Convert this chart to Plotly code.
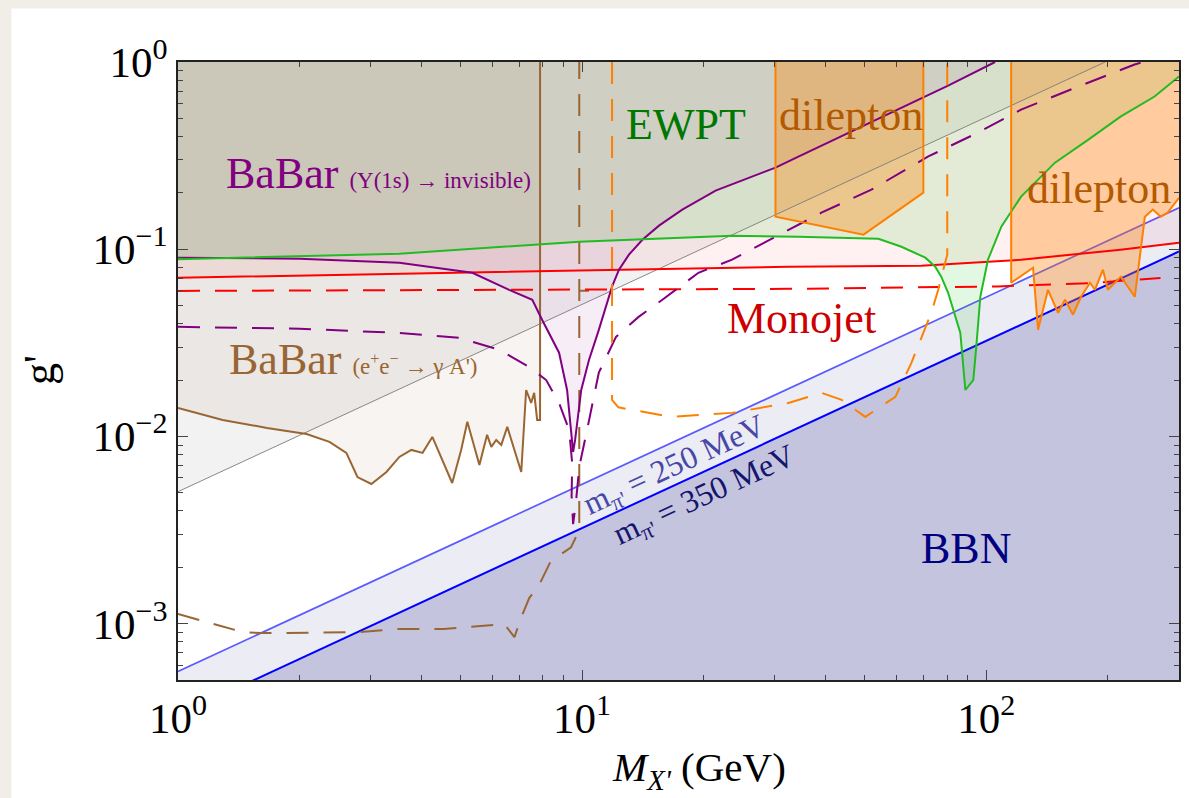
import numpy as np
import plotly.graph_objects as go

# ---------------- axis extents ----------------
X_MIN, X_MAX = 1.0, 300.0          # M_X' (GeV)
Y_MIN, Y_MAX = 5e-4, 1.0           # g'

# ---------------- BaBar  Upsilon(1s) -> invisible ----------------
ups_m = [1.0, 2.0, 3.53, 5.35, 6.60, 7.53, 7.96, 8.77, 9.18, 9.45, 9.50, 9.61, 9.95,
         10.4, 11.0, 11.86, 12.34, 13.06, 14.1, 15.5, 17.7, 21.4, 25.8, 30.1, 34.3,
         45.7, 60.6, 80.5, 105.2]
ups_g = [0.0901, 0.0890, 0.0847, 0.0748, 0.0607, 0.0537, 0.0420, 0.0280, 0.0177,
         0.0099, 0.00826, 0.00958, 0.0177, 0.0256, 0.0371, 0.0631, 0.0777, 0.0935,
         0.1124, 0.1336, 0.1627, 0.2055, 0.241, 0.273, 0.3126, 0.420, 0.557, 0.748, 1.0]

ups_proj_m = [1.0, 2.0, 3.53, 4.97, 6.24, 7.40, 8.15, 8.77, 9.29, 9.45, 9.42, 9.50,
              9.64, 9.84, 10.41, 11.0, 12.13, 13.8, 15.8, 19.4, 23.5, 30.1, 39.1,
              52.0, 71.9, 95.5, 122.0, 162.0, 233.0, 245.0]
ups_proj_g = [0.0385, 0.0376, 0.0357, 0.0336, 0.0290, 0.0235, 0.0200, 0.0151, 0.0108,
              0.00722, 0.0048, 0.0034, 0.0043, 0.00687, 0.01226, 0.0219, 0.0340,
              0.0435, 0.0537, 0.0748, 0.0879, 0.1166, 0.1567, 0.208, 0.313, 0.420,
              0.557, 0.713, 0.97, 1.0]

# ---------------- BaBar  e+e- -> gamma A' ----------------
ee_m = [1.0, 1.29, 1.66, 2.08, 2.37, 2.61, 2.78, 3.01, 3.28, 3.53, 3.78, 4.03, 4.26,
        4.51, 4.77, 5.02, 5.20, 5.57, 5.82, 5.96, 6.13, 6.31, 6.53, 6.80, 7.07, 7.27,
        7.48, 7.61, 7.74, 7.87, 7.87]
ee_g = [0.01419, 0.01225, 0.0111, 0.0103, 0.00935, 0.00817, 0.00607, 0.00557, 0.00646,
        0.00777, 0.00847, 0.00817, 0.00994, 0.00748, 0.00564, 0.00847, 0.01197, 0.00704,
        0.0102, 0.00879, 0.00958, 0.00901, 0.01125, 0.00847, 0.00646, 0.0177, 0.0151,
        0.0171, 0.01225, 0.01225, 1.0]

ee_proj_m = [1.0, 1.45, 1.62, 2.81, 3.49, 4.54, 6.42, 6.80, 7.07, 7.40, 7.83, 8.06,
             8.34, 8.67, 9.39, 9.84, 9.84]
ee_proj_g = [1.125e-3, 9.0e-4, 8.9e-4, 9.0e-4, 9.35e-4, 9.35e-4, 9.94e-4, 8.47e-4,
             1.08e-3, 1.37e-3, 1.61e-3, 1.82e-3, 2.13e-3, 2.27e-3, 2.56e-3, 3.16e-3, 1.0]
ee_proj_step_m = [9.84, 10.4]
ee_proj_step_g = [0.0600, 0.0600]

# ---------------- EWPT ----------------
ewpt_m = [1.0, 3.53, 9.84, 23.5, 34.3, 54.1, 61.7, 70.7, 74.8, 77.4, 80.5, 86.3, 88.8,
          92.9, 94.5, 96.7, 101.0, 109.0, 122.0, 148.0, 179.0, 215.0, 261.0, 300.0]
ewpt_g = [0.0885, 0.0946, 0.1097, 0.118, 0.1166, 0.1138, 0.1031, 0.0901, 0.0806, 0.0713,
          0.0585, 0.0357, 0.0177, 0.0200, 0.0301, 0.0557, 0.0879, 0.132, 0.191, 0.290,
          0.385, 0.511, 0.654, 0.836]

# ---------------- Monojet ----------------
mono_m = [1.0, 3.53, 11.0, 32.4, 69.1, 122.0, 215.0, 300.0]
mono_g = [0.0704, 0.0740, 0.0777, 0.0806, 0.0816, 0.0879, 0.0994, 0.1084]
mono_proj_m = [1.0, 32.4, 107.0, 180.0, 270.0]
mono_proj_g = [0.0599, 0.0614, 0.0633, 0.0659, 0.0701]

# ---------------- dilepton ----------------
dil1_m = [30.1, 30.1, 49.7, 69.9, 69.9]
dil1_g = [1.0, 0.149, 0.1196, 0.2005, 1.0]
dil2_m = [115.3, 115.3, 130.6, 134.4, 142.2, 150.6, 156.7, 164.0, 171.7, 180.7, 185.8,
          194.5, 200.0, 215.4, 233.2, 247.0, 258.5, 270.4, 281.3, 300.0]
dil2_g = [1.0, 0.0662, 0.0796, 0.0371, 0.0607, 0.0457, 0.0537, 0.0447, 0.0557, 0.0662,
          0.0607, 0.0777, 0.0607, 0.0713, 0.0557, 0.149, 0.163, 0.149, 0.157, 0.188]
dil_proj_m = [11.86, 11.86, 12.3, 13.3, 16.6, 19.4, 23.5, 32.4, 39.1, 43.9, 50.2, 59.6,
              65.3, 73.1, 76.1, 78.3, 80.1, 80.1]
dil_proj_g = [1.0, 0.01567, 0.0143, 0.01386, 0.01271, 0.01303, 0.01336, 0.0151, 0.0171,
              0.01567, 0.01271, 0.01626, 0.0247, 0.0457, 0.0607, 0.0777, 0.0935, 1.0]

# ---------------- thin reference line ----------------
ref_m = [1.0, 197.0]
ref_g = [5.07e-3, 1.0]

# ---------------- BBN (m_pi' = 250 / 350 MeV) ----------------
bbn_m = [1.0, 300.0]
bbn250_g = [5.55e-4, 0.1665]
bbn350_g = [3.24e-4, 0.0972]

SERIF = "Liberation Serif, Times New Roman, serif"

fig = go.Figure()


def region(m, g, edge, fillcolor):
    """Closed polygon from a curve to the top or bottom edge of the frame."""
    xs = list(m) + [m[-1], m[0]]
    ys = list(g) + [edge, edge]
    fig.add_trace(go.Scatter(x=xs, y=ys, mode="lines", fill="toself",
                             fillcolor=fillcolor, line=dict(width=0),
                             hoverinfo="skip", showlegend=False))


def curve(m, g, color, width=2.0, dash="solid"):
    fig.add_trace(go.Scatter(x=m, y=g, mode="lines",
                             line=dict(color=color, width=width, dash=dash),
                             hoverinfo="skip", showlegend=False))


DASH = "22px,15px"

# BBN bands and their boundaries
region(bbn_m, bbn250_g, Y_MIN, "rgba(40,30,140,0.085)")
region(bbn_m, bbn350_g, Y_MIN, "rgba(0,0,120,0.17)")
curve(bbn_m, bbn250_g, "#5a5aff", 1.7)
curve(bbn_m, bbn350_g, "#0000ff", 2.0)

# shaded excluded regions
region(ref_m, ref_g, Y_MAX, "rgba(0,0,0,0.05)")
region(ee_m, ee_g, Y_MAX, "rgba(153,102,51,0.07)")
region(mono_m, mono_g, Y_MAX, "rgba(255,0,0,0.055)")
region(ups_m, ups_g, Y_MAX, "rgba(128,0,128,0.07)")
region(ewpt_m, ewpt_g, Y_MAX, "rgba(0,190,0,0.11)")
fig.add_trace(go.Scatter(x=dil1_m, y=dil1_g, mode="lines", fill="toself",
                         fillcolor="rgba(255,128,0,0.34)", line=dict(width=0),
                         hoverinfo="skip", showlegend=False))
region(dil2_m, dil2_g, Y_MAX, "rgba(255,128,0,0.34)")

# boundaries
curve(ref_m, ref_g, "#7a7a7a", 0.9)
curve(ee_m, ee_g, "#996633", 2.0)
curve(ee_proj_m, ee_proj_g, "#996633", 2.0, DASH)
curve(ee_proj_step_m, ee_proj_step_g, "#996633", 2.0)
curve(mono_m, mono_g, "#ff0000", 2.0)
curve(mono_proj_m, mono_proj_g, "#ff0000", 2.0, DASH)
curve(ups_m, ups_g, "#800080", 2.0)
curve(ups_proj_m, ups_proj_g, "#800080", 2.0, DASH)
curve(ewpt_m, ewpt_g, "#22bb22", 2.0)
curve(dil1_m, dil1_g, "#ff8000", 2.0)
curve(dil2_m, dil2_g, "#ff8000", 2.0)
curve(dil_proj_m, dil_proj_g, "#ff8000", 2.0, DASH)

# ---------------- labels ----------------
lg = np.log10


def label(x, y, text, color, size=44, angle=0, xanchor="center"):
    fig.add_annotation(x=lg(x), y=lg(y), xref="x", yref="y", text=text,
                       showarrow=False, textangle=angle, xanchor=xanchor,
                       yanchor="middle",
                       font=dict(family=SERIF, size=size, color=color))


label(1.30, 0.2535,
      "BaBar <span style='font-size:23px'>(\u03a5(1s) \u2192 invisible)</span>",
      "#800080", xanchor="left")
label(1.32, 0.02565,
      "BaBar <span style='font-size:23px'>(e<sup>+</sup>e<sup>\u2212</sup> \u2192 \u03b3 A')</span>",
      "#996633", xanchor="left")
label(18.06, 0.4634, "EWPT", "#007700")
label(46.4, 0.5174, "dilepton", "#b35900")
label(190.1, 0.2106, "dilepton", "#b35900")
label(34.9, 0.0425, "Monojet", "#cc0000")
label(89.3, 2.535e-3, "BBN", "#000080")
label(16.98, 6.87e-3, "m<sub>\u03c0'</sub> = 250 MeV", "#4848a8", size=32, angle=-24.8)
label(20.1, 4.75e-3, "m<sub>\u03c0'</sub> = 350 MeV", "#15156e", size=32, angle=-24.8)

# axis titles
fig.add_annotation(xref="paper", yref="paper", x=0.52, y=-0.146,
                   text="<i>M</i><sub><i>X'</i></sub> (GeV)", showarrow=False,
                   xanchor="center", yanchor="middle",
                   font=dict(family=SERIF, size=41, color="black"))
fig.add_annotation(xref="paper", yref="paper", x=-0.1376, y=0.502,
                   text="g'", showarrow=False, textangle=-90,
                   xanchor="center", yanchor="middle",
                   font=dict(family=SERIF, size=44, color="black"))

# white page panel on the textured backdrop
fig.add_shape(type="rect", xref="paper", yref="paper", x0=-0.1665, x1=1.2,
              y0=-0.4, y1=1.0866, fillcolor="white", line=dict(width=0),
              layer="below")

x_minor = [k * 10 ** d for d in range(0, 3) for k in range(2, 10) if k * 10 ** d < X_MAX]
y_minor = [k * 10.0 ** d for d in range(-4, 0) for k in range(2, 10)
           if Y_MIN < k * 10.0 ** d < Y_MAX]

axis_common = dict(type="log", showgrid=False, zeroline=False, showline=True,
                   linecolor="#222222", linewidth=1.5, mirror="allticks",
                   ticks="inside", ticklen=10, tickwidth=1.2, tickcolor="#444444",
                   tickfont=dict(family=SERIF, size=43, color="black"))

fig.update_xaxes(range=[lg(X_MIN), lg(X_MAX)], tickmode="array",
                 tickvals=[1, 10, 100],
                 ticktext=["10<sup>0</sup>", "10<sup>1</sup>", "10<sup>2</sup>"],
                 minor=dict(tickmode="array", tickvals=x_minor, ticks="inside",
                            ticklen=5, tickwidth=1.0, tickcolor="#444444"),
                 **axis_common)
fig.update_yaxes(range=[lg(Y_MIN), lg(Y_MAX)], tickmode="array",
                 tickvals=[1e-3, 1e-2, 1e-1, 1],
                 ticktext=["10<sup>\u22123</sup>", "10<sup>\u22122</sup>",
                           "10<sup>\u22121</sup>", "10<sup>0</sup>"],
                 minor=dict(tickmode="array", tickvals=y_minor, ticks="inside",
                            ticklen=5, tickwidth=1.0, tickcolor="#444444"),
                 **axis_common)

fig.update_layout(width=1189, height=798,
                  margin=dict(l=178, r=8, t=62, b=118),
                  paper_bgcolor="#f1eee7", plot_bgcolor="white",
                  showlegend=False)

fig.write_html("out.html")
